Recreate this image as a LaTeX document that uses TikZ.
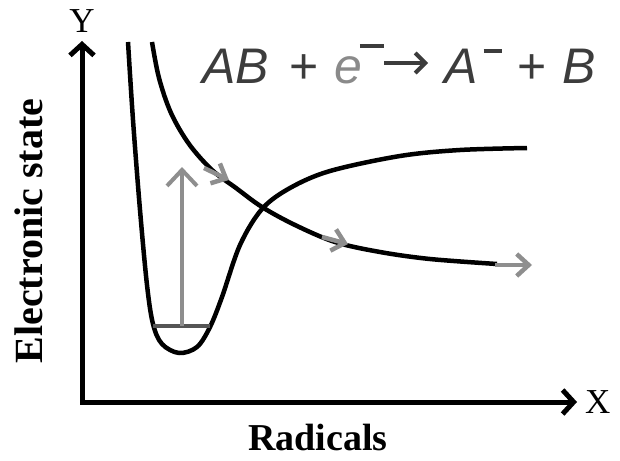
\documentclass[tikz,border=0pt]{standalone}
\usepackage{fontspec}
\setmainfont{Liberation Serif}
\newfontfamily\eqfont{Liberation Sans}
\usetikzlibrary{arrows.meta, positioning}
\definecolor{arrowgray}{HTML}{8E8E8E}
\definecolor{levelgray}{HTML}{555555}
\definecolor{textgray}{HTML}{3C3C3C}
\definecolor{egray}{HTML}{8A8A8A}

\begin{document}
\begin{tikzpicture}[x=1pt, y=-1pt, every node/.style={inner sep=0pt},
    axis/.style={line width=5pt, line join=miter, {Straight Barb[length=11pt, width=24pt]}-{Straight Barb[length=11pt, width=24pt]}},
    curve/.style={line width=4.5pt, line join=round},
    drift/.style={arrowgray, line width=4.5pt, -{Straight Barb[length=12pt, width=22pt]}},
    jump/.style={arrowgray, line width=4pt, -{Straight Barb[length=16pt, width=30pt]}},
    react/.style={textgray, line width=4pt, -{Straight Barb[length=10pt, width=20pt]}},
    eq/.style={anchor=base west, text=textgray, font=\eqfont\fontsize{50}{50}\selectfont}]
    \useasboundingbox (0,0) rectangle (620,460);

    % axes
    \coordinate (origin) at (82,402);
    \coordinate (ytip) at (82,41);
    \coordinate (xtip) at (577,402);
    \draw[axis] (ytip) -- (origin) -- (xtip);
    \node[font=\fontsize{35}{35}\selectfont, above=8pt of ytip] (ylabel) {Y};
    \node[font=\fontsize{35}{35}\selectfont, right=8pt of xtip] (xlabel) {X};
    \node[font=\bfseries\fontsize{38}{38}\selectfont] (xname) at (318,437) {Radicals};
    \node[font=\bfseries\fontsize{40}{40}\selectfont, rotate=90] (yname) at (29,231) {Electronic state};

    % reaction
    \node[eq] (lhs) at (202,83) {\textit{AB}\hspace{0.42em}+\hspace{0.3em}\textcolor{egray}{\textit{e}}\kern-2pt\raisebox{35pt}{\rule{24pt}{4pt}}};
    \node[eq] (rhs) at (444,83) {\textit{A}\kern6pt\raisebox{30pt}{\rule{18pt}{4pt}}\hspace{0.32em}+\hspace{0.32em}\textit{B}};
    \draw[react] ([yshift=20pt]lhs.base east) -- ([xshift=-16pt, yshift=20pt]rhs.base west);

    % bound state (well)
    \draw[curve] plot[smooth, tension=0.55] coordinates {(128,42) (133,120) (140,210) (147,285) (153,324)
        (162,344) (179,353) (197,347) (210,327) (222,297) (240,245) (262,209) (290,188) (330,171)
        (400,156) (460,150) (527,148)};
    % repulsive state
    \draw[curve] plot[smooth, tension=0.55] coordinates {(152,42) (159,78) (171,113) (189,144) (212,170)
        (236,188) (262,207) (295,225) (335,242) (380,252) (430,259) (497,264)};

    % vibrational level and excitation
    \coordinate (lv0) at (153,326);
    \coordinate (lv1) at (210,326);
    \draw[levelgray, line width=4pt] (lv0) -- (lv1);
    \coordinate (ex0) at (182,326);
    \coordinate (ex1) at (182,167);
    \draw[jump] (ex0) -- (ex1);

    % dissociation arrows
    \coordinate (d1a) at (204,168);
    \coordinate (d1b) at (229,180);
    \coordinate (d2a) at (322,237);
    \coordinate (d2b) at (348,244);
    \coordinate (d3a) at (495,265);
    \coordinate (d3b) at (532,265);
    \draw[drift] (d1a) -- (d1b);
    \draw[drift] (d2a) -- (d2b);
    \draw[drift] (d3a) -- (d3b);
\end{tikzpicture}
\end{document}
